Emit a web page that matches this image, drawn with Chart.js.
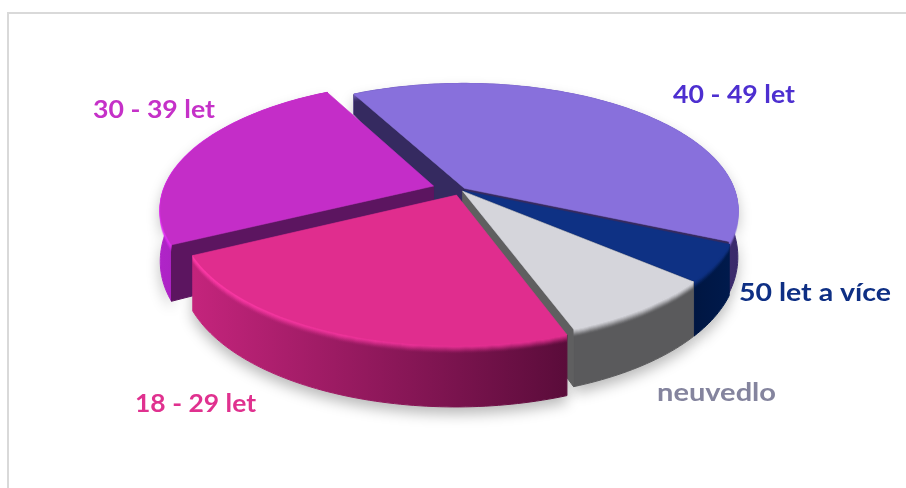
<!DOCTYPE html>
<html><head><meta charset="utf-8">
<style>
html,body{margin:0;padding:0;background:#fff;overflow:hidden}
#wrap{position:relative;width:906px;height:488px}
#frame{position:absolute;left:7px;top:12px;width:920px;height:500px;border:2px solid #d9d9d9;box-sizing:border-box}
canvas{position:absolute;left:0;top:0;filter:blur(0.4px)}
</style>
<script src="https://cdn.jsdelivr.net/npm/chart.js@4/dist/chart.umd.min.js"></script>
</head><body>
<div id="wrap"><div id="frame"></div><canvas id="c" width="906" height="488"></canvas></div>
<script>
const categories = ["40 - 49 let","50 let a více","neuvedlo","18 - 29 let","30 - 39 let"];
const values = [39.4,4.7,8.1,23.2,24.6];
const explode = [5,3,3,12,29];
const topColors = ["#8870dc","#0e3184","#d5d5db","#e02d8e","#c42dc8"];
const labelColors = ["#4d2fd0","#0e2f84","#84849e","#e0318f","#c531c8"];

const style = {
  side:[["#7a64c8","#3a2a6a"],["#001642","#001a4c"],["#5a5a5c","#5a5a5c"],["#c4247c","#5a0c3a"],["#b024c8","#7c1a92"]],
  wall:["#352a60","#001642","#5f5f60","#5a0c3a","#5c1560"],
  rim:[["#7a64c8","#8870dc"],["#0e3184","#0e3184"],["#d5d5db","#d5d5db"],["#ff3aa8","#e02d8e"],["#e030f0","#c42dc8"]],
  depthBoost:[0,0,0,3,5],
  order:[0,4,1,2,3],
  labelAt:[[673,103],[739,301],[657,401],[135,412],[93,118]],
  labelWidth:[122,152,119,121,122]
};
const view = {cx:461, cy:190, R:270, k:0.4556, p:0.17, d0:44, d1:20.67, d2:-6.67, rimN:8};

function proj(u,v,boost){
  const f=1/(1-view.p*v);
  return {x:view.cx+view.R*u*f, y:view.cy+view.R*view.k*v*f, d:view.d0+view.d1*v+view.d2*v*v+boost};
}
function slicePts(arc,off,boost){
  const a=arc.startAngle,b=arc.endAngle,m=(a+b)/2;
  const ox=off/view.R*Math.cos(m), oy=off/view.R*Math.sin(m);
  const n=Math.max(6,Math.ceil((b-a)/0.02)), edge=[];
  for(let i=0;i<=n;i++){const t=a+(b-a)*i/n;edge.push(proj(Math.cos(t)+ox,Math.sin(t)+oy,boost));}
  return {apex:proj(ox,oy,boost),edge};
}
function grad(ctx,pts,c){
  let lo=1e9,hi=-1e9;pts.forEach(p=>{lo=Math.min(lo,p.x);hi=Math.max(hi,p.x)});
  const g=ctx.createLinearGradient(lo,0,hi+1,0);g.addColorStop(0,c[0]);g.addColorStop(1,c[1]);return g;
}
function poly(ctx,pts){ctx.beginPath();pts.forEach((p,i)=>i?ctx.lineTo(p.x,p.y):ctx.moveTo(p.x,p.y));ctx.closePath();}
const low=p=>({x:p.x,y:p.y+p.d});
// a radial wall shows only when shifting its top edge downward leaves the slice's top face
function wallFacesViewer(A,p,mid){
  const ex=p.x-A.x, ey=p.y-A.y;
  const down=ex;                              // edge x (0,1)
  const inner=ex*(mid.y-A.y)-ey*(mid.x-A.x);  // edge x (mid-A)
  return down*inner<0;
}

const pie3d={
  id:'pie3d',
  beforeDatasetDraw(chart){
    const ctx=chart.ctx, arcs=chart.getDatasetMeta(0).data;
    const shapes=arcs.map((a,i)=>slicePts(a.getProps(['startAngle','endAngle'],true),explode[i],style.depthBoost[i]));
    ctx.save();
    ctx.lineJoin='round';
    // soft ground shadow
    ctx.shadowColor='rgba(0,0,0,0.28)';ctx.shadowBlur=14;ctx.shadowOffsetY=7;ctx.fillStyle='#fff';
    shapes.forEach(s=>{poly(ctx,[...s.edge,...s.edge.slice().reverse().map(low)]);ctx.fill();});
    ctx.shadowColor='transparent';ctx.shadowBlur=0;ctx.shadowOffsetY=0;
    style.order.forEach(i=>{
      const s=shapes[i],e=s.edge,A=s.apex,mid=e[Math.floor(e.length/2)];
      // outer side
      const g=grad(ctx,e,style.side[i]);
      ctx.fillStyle=g;ctx.strokeStyle=g;ctx.lineWidth=1;
      poly(ctx,[...e,...e.slice().reverse().map(low)]);ctx.fill();ctx.stroke();
      // visible radial walls
      ctx.fillStyle=style.wall[i];ctx.strokeStyle=style.wall[i];
      [e[0],e[e.length-1]].forEach(p=>{
        if(wallFacesViewer(A,p,mid)){poly(ctx,[A,p,low(p),low(A)]);ctx.fill();ctx.stroke();}
      });
      // rounded rim
      ctx.strokeStyle=grad(ctx,e,style.rim[i]);ctx.lineWidth=1.6;
      for(let n=view.rimN;n>=0;n--){
        ctx.globalAlpha=Math.pow(1-n/view.rimN,1.6);
        ctx.beginPath();e.forEach((p,j)=>j?ctx.lineTo(p.x,p.y+n):ctx.moveTo(p.x,p.y+n));ctx.stroke();
      }
      ctx.globalAlpha=1;
      // top face
      ctx.fillStyle=topColors[i];ctx.strokeStyle=topColors[i];ctx.lineWidth=.6;
      poly(ctx,[A,...e]);ctx.fill();ctx.stroke();
    });
    ctx.restore();
    return false;
  },
  afterDatasetsDraw(chart){
    const ctx=chart.ctx;
    ctx.font='700 24.5px Lato';ctx.textBaseline='alphabetic';
    categories.forEach((t,i)=>{
      ctx.save();
      ctx.fillStyle=labelColors[i];
      ctx.translate(style.labelAt[i][0],style.labelAt[i][1]);
      ctx.scale(style.labelWidth[i]/ctx.measureText(t).width,1);
      ctx.fillText(t,0,0);
      ctx.restore();
    });
  }
};

new Chart(document.getElementById('c'),{
  type:'pie',
  data:{labels:categories,datasets:[{data:values,backgroundColor:topColors,borderWidth:0}]},
  options:{responsive:false,animation:false,rotation:-28,
    plugins:{legend:{display:false},tooltip:{enabled:false}}},
  plugins:[pie3d]
});
</script>
</body></html>
